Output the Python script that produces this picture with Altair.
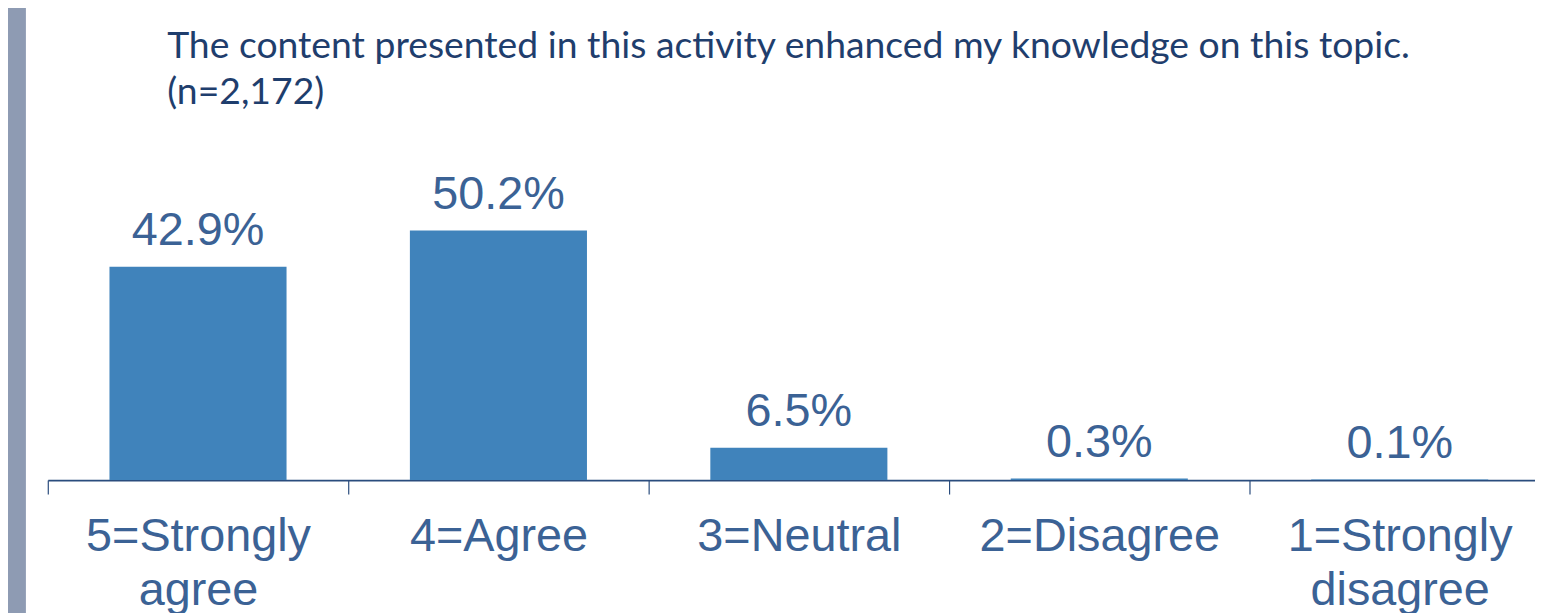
import altair as alt
import pandas as pd

categories = ["5=Strongly agree", "4=Agree", "3=Neutral", "2=Disagree", "1=Strongly disagree"]
percents = [42.9, 50.2, 6.5, 0.3, 0.1]
value_labels = ["42.9%", "50.2%", "6.5%", "0.3%", "0.1%"]
title_lines = [
    "The content presented in this activity enhanced my knowledge on this topic.",
    "(n=2,172)",
]

df = pd.DataFrame({"category": categories, "pct": percents, "label": value_labels})

BAR = "#4083bb"
TXT = "#3b6295"
AX = "#2a4c7d"

x = alt.X(
    "category:N",
    sort=categories,
    title=None,
    scale=alt.Scale(paddingInner=0, paddingOuter=0),
    axis=alt.Axis(
        labelExpr="split(replace(datum.label, 'Strongly ', 'Strongly|'), '|')",
        labelAngle=0,
        labelFont="Liberation Sans",
        labelFontSize=47,
        labelColor=TXT,
        labelLineHeight=54,
        labelPadding=20,
        labelBaseline="top",
        labelLimit=0,
        tickBand="extent",
        tickSize=14,
        tickColor=AX,
        tickWidth=1.2,
        domainColor=AX,
        domainWidth=1.6,
        grid=False,
    ),
)
y = alt.Y("pct:Q", scale=alt.Scale(domain=[0, 68.2], nice=False, zero=True), axis=None)

base = alt.Chart(df)
bars = base.mark_bar(color=BAR, width=178).encode(x=x, y=y)
texts = base.mark_text(
    font="Liberation Sans", fontSize=47, color=TXT, baseline="alphabetic", dy=-22
).encode(x=x, y=y, text="label:N")

one = alt.Chart(pd.DataFrame({"k": [0]}))
band = one.mark_rect(color="#8e9bb3").encode(
    x=alt.value(-40), x2=alt.value(-22), y=alt.value(-140), y2=alt.value(480)
)
title = one.mark_text(
    font="Lato", fontSize=37.5, color="#1f3e6d", align="left",
    baseline="alphabetic", lineHeight=46,
).encode(x=alt.value(120), y=alt.value(-83), text=alt.value(title_lines))

chart = (
    alt.layer(band, bars, texts, title)
    .properties(
        width=1510,
        height=341,
        autosize="none",
        padding={"left": 40, "top": 132, "right": -15, "bottom": 132},
    )
    .configure_view(stroke=None)
)

chart.save("out.html", embed_options={"renderer": "svg", "actions": False})
